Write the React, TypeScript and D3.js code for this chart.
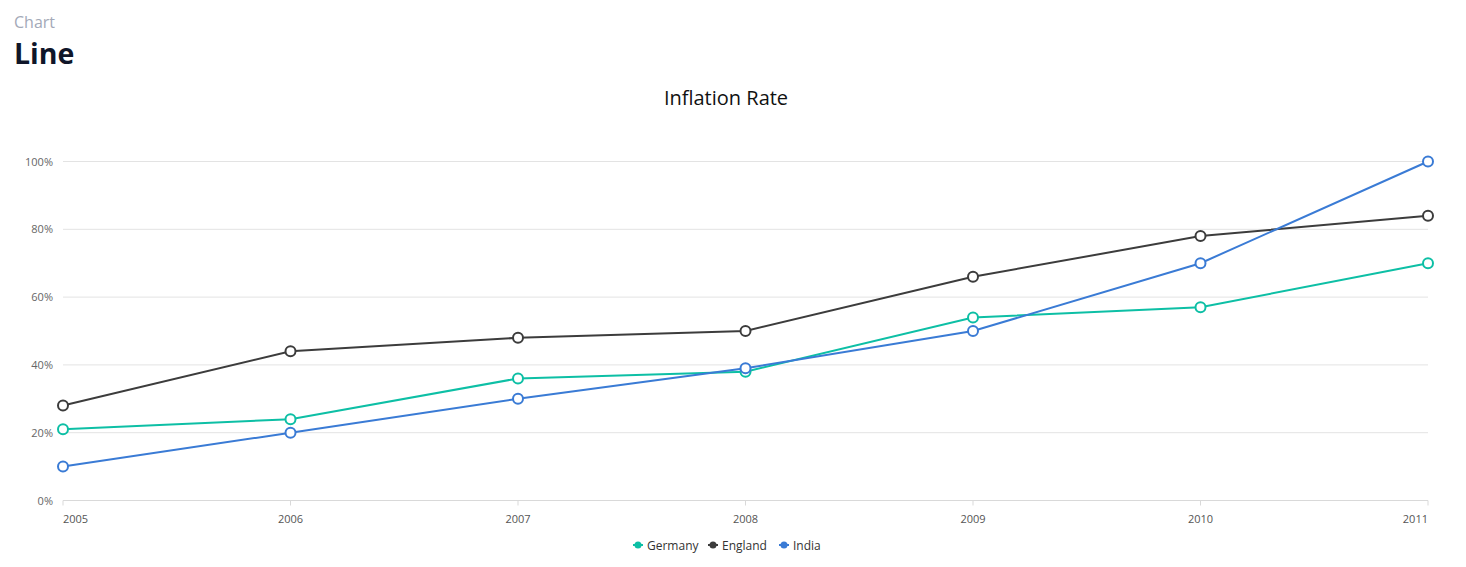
import React from "react";
import * as d3 from "d3";

const years = ["2005", "2006", "2007", "2008", "2009", "2010", "2011"];
const germany = [21, 24, 36, 38, 54, 57, 70];
const england = [28, 44, 48, 50, 66, 78, 84];
const india = [10, 20, 30, 39, 50, 70, 100];
const yTicks = [0, 20, 40, 60, 80, 100];
const seriesNames = ["Germany", "England", "India"];
const seriesColors = ["#0dbfa5", "#3c3c3c", "#3a7bd5"];

const W = 1466;
const H = 567;
const FONT = "'Open Sans', 'Noto Sans', sans-serif";

export default function App() {
  const series = [germany, england, india];
  const x = d3.scalePoint<string>().domain(years).range([63, 1428]);
  const y = d3.scaleLinear().domain([0, 100]).range([500.5, 161.5]);
  const line = d3
    .line<number>()
    .x((_, i) => x(years[i]) as number)
    .y((d) => y(d));

  const legendWidths = [66, 62, 36];
  const legendGap = 9;
  const totalLegend = legendWidths.reduce((a, b) => a + b, 0) + legendGap * 2;
  let lx = 724 - totalLegend / 2;
  const legendPos = legendWidths.map((w) => {
    const p = lx;
    lx += w + legendGap;
    return p;
  });

  return (
    <svg
      width={W}
      height={H}
      style={{ position: "absolute", left: 0, top: 0, background: "#fff" }}
      fontFamily={FONT}
    >
      <text x={14} y={28} fontSize={16} fill="#a3a9b8">
        Chart
      </text>
      <text x={14} y={64} fontSize={28.5} fontWeight={700} fill="#0f1629">
        Line
      </text>
      <text x={726} y={105} fontSize={20} fill="#111" textAnchor="middle">
        Inflation Rate
      </text>

      {yTicks.map((t) =>
        t === 0 ? null : (
          <line key={"g" + t} x1={63} x2={1428} y1={y(t)} y2={y(t)} stroke="#e3e3e3" strokeWidth={1} />
        )
      )}
      <line x1={63} x2={1428} y1={y(0)} y2={y(0)} stroke="#d9d9d9" strokeWidth={1} />
      {yTicks.map((t) => (
        <text key={"yl" + t} x={53} y={y(t) + 4} fontSize={11} fill="#666" textAnchor="end">
          {t}%
        </text>
      ))}
      {years.map((yr, i) => {
        const xp = x(yr) as number;
        const anchor = i === 0 ? "start" : i === years.length - 1 ? "end" : "middle";
        return (
          <g key={"x" + yr}>
            <line x1={xp} x2={xp} y1={500.5} y2={505.5} stroke="#d9d9d9" strokeWidth={1} />
            <text x={xp} y={523} fontSize={11} fill="#555" textAnchor={anchor}>
              {yr}
            </text>
          </g>
        );
      })}

      {series.map((s, si) => (
        <g key={"s" + si}>
          <path d={line(s) || ""} fill="none" stroke={seriesColors[si]} strokeWidth={2} />
          {s.map((v, i) => (
            <circle
              key={i}
              cx={x(years[i]) as number}
              cy={y(v)}
              r={5}
              fill="#fff"
              stroke={seriesColors[si]}
              strokeWidth={2}
            />
          ))}
        </g>
      ))}

      {seriesNames.map((n, i) => (
        <g key={"l" + n} transform={`translate(${legendPos[i]},545)`}>
          <line x1={0} x2={10} y1={0} y2={0} stroke={seriesColors[i]} strokeWidth={2} />
          <circle cx={5} cy={0} r={3.5} fill={seriesColors[i]} />
          <text x={14} y={4.5} fontSize={12} fill="#333">
            {n}
          </text>
        </g>
      ))}
    </svg>
  );
}
